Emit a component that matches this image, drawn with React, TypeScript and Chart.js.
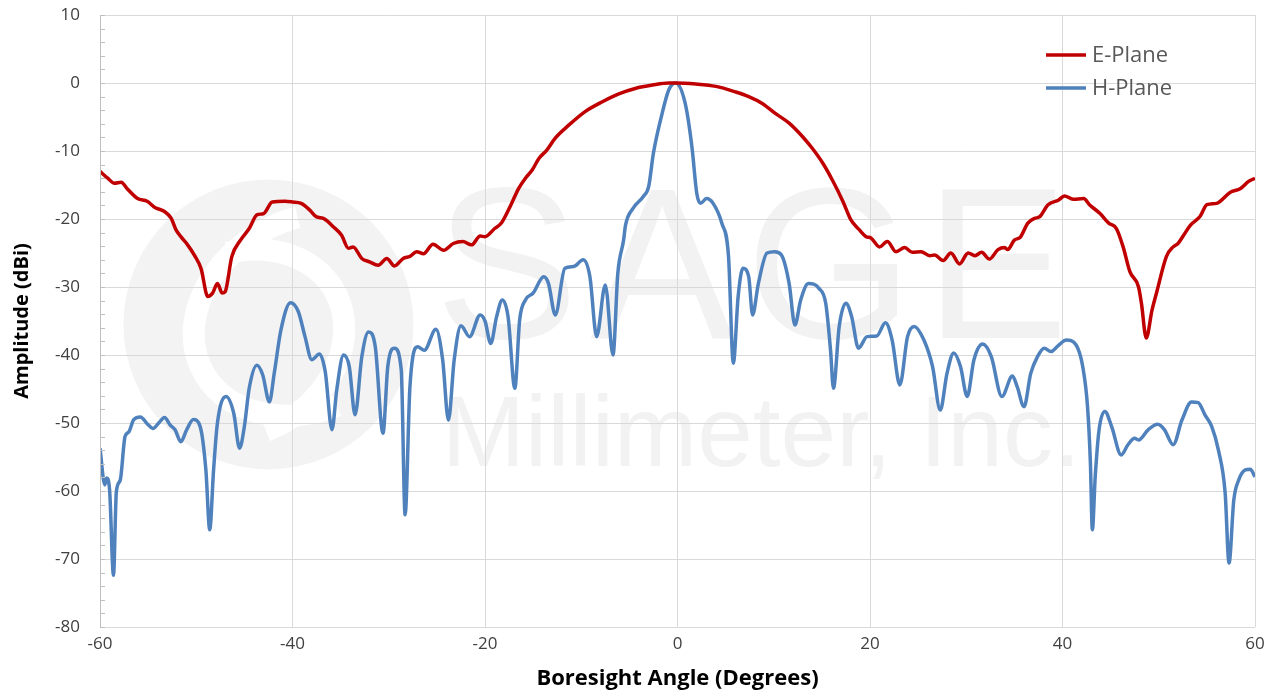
import { useEffect, useRef } from 'react';
import { Chart, registerables } from 'chart.js';

Chart.register(...registerables);

// E-Plane (red) angle / amplitude pairs
const eAngles = [
  -60, -59.2, -58.5, -57.8, -57.2, -56.1, -55.1, -54.3, -53.3, -52.6, -52.1, -51.6, -50.9, -50.2, -49.5,
  -48.8, -48.3, -47.8, -47.3, -47.0, -46.3, -45.4, -44.5, -43.7, -43.0, -42.1, -40.8, -40.0, -39.1, -38.2,
  -37.5, -36.8, -35.8, -34.9, -34.2, -33.7, -32.8, -32.0, -31.1, -30.2, -29.4, -28.5, -27.8, -27.1, -26.4,
  -25.4, -24.3, -23.3, -22.3, -21.4, -20.5, -20.0, -19.0, -18.3, -17.4, -16.5, -15.8, -15.1, -14.4, -13.6,
  -12.7, -11.3, -9.6, -7.8, -6.1, -4.4, -2.6, -0.9, -0.2, 1.9, 4.0, 6.0, 7.4, 8.8, 10.2, 11.6, 13.0, 14.0,
  15.1, 16.1, 17.2, 18.0, 18.9, 19.6, 20.1, 21.0, 21.8, 22.7, 23.6, 24.4, 25.3, 26.2, 26.7, 27.6, 28.4,
  29.3, 30.2, 30.9, 31.6, 32.4, 33.3, 34.0, 34.3, 35.0, 35.6, 36.4, 37.1, 37.6, 38.5, 39.6, 40.2, 41.1,
  42.2, 42.8, 43.9, 44.8, 45.6, 46.3, 47.0, 47.9, 48.2, 48.7, 49.3, 49.8, 50.8, 51.5, 52.0, 52.6, 53.3,
  54.3, 55.0, 56.0, 57.4, 58.5, 59.3, 60.0,
];
const eValues = [
  -13.0, -14.0, -14.75, -14.6, -15.5, -17.0, -17.4, -18.3, -18.9, -19.9, -21.6, -22.6, -23.8, -25.3, -27.3,
  -31.4, -30.9, -29.5, -30.9, -30.7, -25.5, -23.1, -21.4, -19.4, -19.2, -17.5, -17.4, -17.5, -17.7, -18.7,
  -19.7, -19.9, -21.1, -22.4, -24.3, -24.1, -25.8, -26.3, -26.8, -25.8, -26.9, -25.8, -25.5, -24.8, -25.1,
  -23.7, -24.6, -23.6, -23.3, -23.8, -22.5, -22.6, -21.4, -20.6, -18.2, -15.5, -14.0, -12.8, -11.1, -9.9,
  -8.1, -6.2, -4.2, -2.75, -1.6, -0.8, -0.3, 0, 0, -0.15, -0.5, -1.3, -2.0, -3.0, -4.5, -5.9, -7.9, -9.6,
  -11.8, -14.3, -17.45, -20.1, -21.6, -22.6, -22.8, -24.1, -23.3, -24.8, -24.2, -24.9, -24.8, -25.4, -25.3, -26.1, -25.0,
  -26.6, -25.0, -25.4, -24.9, -25.9, -24.5, -24.2, -24.5, -23.1, -22.7, -20.6, -19.9, -19.7, -17.9, -17.2, -16.6, -17.1,
  -17.0, -17.9, -19.2, -20.6, -21.4, -24.1, -27.75, -30.0, -32.4, -37.5, -33.4, -30.7, -25.5, -24.1, -23.6, -22.35, -20.9,
  -19.6, -17.9, -17.7, -16.1, -15.5, -14.5, -14.0,
];

// H-Plane (blue) angle / amplitude pairs
const hAngles = [
  -60.0, -59.5, -59.3, -59.0, -58.6, -58.3, -57.9, -57.4, -57.0, -56.5, -55.8, -55.1, -54.5, -53.9, -53.3,
  -52.7, -52.2, -51.6, -51.0, -50.3, -49.6, -49.0, -48.6, -48.2, -47.8, -46.9, -46.1, -45.5, -45.0, -44.5,
  -43.7, -43.1, -42.4, -41.9, -41.2, -40.2, -39.4, -38.7, -38.0, -37.2, -36.6, -35.9, -35.4, -34.7, -34.1,
  -33.5, -32.8, -32.1, -31.4, -30.6, -30.1, -29.4, -28.7, -28.3, -27.8, -27.0, -26.3, -25.1, -24.4, -23.8,
  -23.2, -22.5, -21.6, -20.5, -20.0, -19.4, -18.8, -18.2, -17.6, -16.9, -16.4, -15.8, -15.0, -13.9, -13.4,
  -12.7, -11.7, -10.8, -9.8, -9.1, -8.4, -7.5, -6.7, -6.2, -5.6, -5.4, -4.6, -3.55, -3.0, -2.5, -1.6, -0.9,
  -0.2, 0.8, 1.5, 2.0, 2.4, 3.0, 3.7, 4.6, 5.3, 5.8, 6.3, 6.8, 7.4, 7.8, 8.4, 9.3, 10.1, 10.8, 11.6, 12.2,
  12.8, 13.6, 14.7, 15.4, 15.9, 16.2, 16.8, 17.5, 18.1, 18.8, 19.7, 20.7, 21.6, 22.3, 23.1, 23.9, 24.6,
  25.6, 26.5, 27.3, 28.0, 28.7, 29.4, 30.1, 30.8, 31.7, 32.6, 33.7, 34.8, 35.3, 36.0, 36.7, 37.4, 38.1,
  38.8, 39.5, 40.4, 41.4, 42.1, 42.6, 42.9, 43.1, 43.4, 43.8, 44.4, 45.1, 46.1, 46.8, 47.5, 47.9, 48.9,
  49.9, 50.6, 51.5, 52.4, 53.4, 54.1, 54.8, 55.5, 56.2, 56.9, 57.3, 57.8, 58.3, 59.0, 59.5, 60.0,
];
const hValues = [
  -53.7, -59.1, -58.1, -59.9, -72.4, -60.1, -58.4, -52.0, -51.3, -49.5, -49.1, -50.1, -50.8, -50.0, -49.2,
  -50.3, -51.0, -52.75, -51.0, -49.5, -50.5, -56.9, -65.7, -56.9, -50.0, -46.1, -48.6, -53.7, -50.5, -44.9,
  -41.5, -42.9, -46.9, -42.7, -36.3, -32.3, -33.6, -37.3, -40.7, -39.85, -42.45, -51.0, -45.1, -40.0, -41.7,
  -48.8, -40.25, -36.6, -38.8, -51.5, -41.7, -39.0, -42.2, -63.5, -44.7, -38.8, -39.3, -36.2, -40.7, -49.6,
  -40.7, -35.7, -37.3, -34.1, -35.0, -38.3, -34.4, -31.9, -34.4, -44.9, -34.85, -31.9, -30.9, -28.5, -29.5,
  -34.1, -27.25, -27.0, -26.0, -28.5, -37.3, -29.7, -40.0, -28.0, -23.1, -20.9, -18.4, -16.7, -15.25, -10.3, -4.5, -1.0,
  0, -3.0, -9.4, -16.2, -17.7, -17.0, -17.7, -20.6, -25.5, -41.2, -31.4, -27.25, -28.5, -34.1, -29.5, -25.0, -24.8, -25.3, -29.5, -35.6,
  -31.9, -29.5, -30.2, -32.4, -39.3, -44.9, -35.8, -32.4, -34.4, -39.0, -37.3, -37.2, -35.25, -37.8, -44.4, -37.3, -35.8,
  -37.8, -41.7, -48.1, -42.7, -39.7, -41.7, -46.1, -40.7, -38.4, -40.25, -46.1, -43.1, -44.7, -47.6, -42.7, -40.25, -39.0,
  -39.5, -38.7, -37.8, -38.5, -41.7, -47.6, -55.9, -65.7, -57.9, -51.0, -48.3, -50.5, -54.7, -53.2, -52.25, -52.5, -51.0,
  -50.2, -51.0, -53.2, -49.6, -46.9, -47.0, -48.8, -50.5, -54.0, -60.3, -70.6, -61.3, -58.4, -56.9, -56.8, -57.9,
];

const seriesLabels = ['E-Plane', 'H-Plane'];
const seriesColors = ['#C00000', '#4F81BD'];
const xTickValues = [-60, -40, -20, 0, 20, 40, 60];
const xTitle = 'Boresight Angle (Degrees)';
const yTitle = 'Amplitude (dBi)';
const watermarkWords = ['SAGE', 'Millimeter, Inc.'];

const FONT = '"Open Sans", "Liberation Sans", sans-serif';

const watermarkPlugin = {
  id: 'watermark',
  beforeDraw(chart: any) {
    const { ctx, chartArea } = chart;
    const xs = chart.scales.x;
    const ys = chart.scales.y;
    ctx.save();
    ctx.beginPath();
    ctx.rect(chartArea.left, chartArea.top, chartArea.right - chartArea.left, chartArea.bottom - chartArea.top);
    ctx.clip();
    // logo disc
    const cx = xs.getPixelForValue(-42.5);
    const cy = ys.getPixelForValue(-35.5);
    ctx.fillStyle = '#F3F3F3';
    ctx.beginPath();
    ctx.arc(cx, cy, 145, 0, Math.PI * 2);
    ctx.fill();
    ctx.strokeStyle = '#FFFFFF';
    ctx.lineWidth = 22;
    ctx.beginPath();
    ctx.ellipse(cx + 40, cy - 10, 120, 95, -0.5, Math.PI * 0.55, Math.PI * 1.6);
    ctx.stroke();
    ctx.beginPath();
    ctx.ellipse(cx - 30, cy + 20, 110, 90, -0.5, Math.PI * 1.6, Math.PI * 2.55);
    ctx.stroke();
    // text
    ctx.fillStyle = '#F2F2F2';
    ctx.textBaseline = 'alphabetic';
    ctx.textAlign = 'left';
    ctx.font = '215px "Liberation Sans", sans-serif';
    (ctx as any).letterSpacing = '12px';
    ctx.fillText(watermarkWords[0], xs.getPixelForValue(-25.2), ys.getPixelForValue(-37.5));
    (ctx as any).letterSpacing = '0px';
    ctx.font = '100px "Liberation Sans", sans-serif';
    ctx.fillText(watermarkWords[1], xs.getPixelForValue(-24.5), ys.getPixelForValue(-56.3));
    ctx.restore();
  },
};

const axisDecorPlugin = {
  id: 'axisDecor',
  afterDatasetsDraw(chart: any) {
    const { ctx, chartArea } = chart;
    const ys = chart.scales.y;
    ctx.save();
    ctx.strokeStyle = '#BFBFBF';
    ctx.lineWidth = 1;
    ctx.beginPath();
    ctx.moveTo(chartArea.left + 0.5, chartArea.top);
    ctx.lineTo(chartArea.left + 0.5, chartArea.bottom);
    for (let v = -80; v <= 10; v += 2) {
      const y = Math.round(ys.getPixelForValue(v)) + 0.5;
      ctx.moveTo(chartArea.left, y);
      ctx.lineTo(chartArea.left + 5, y);
    }
    ctx.stroke();
    ctx.restore();
  },
};

const legendPlugin = {
  id: 'customLegend',
  afterDatasetsDraw(chart: any) {
    const { ctx } = chart;
    ctx.save();
    ctx.font = '22px ' + FONT;
    ctx.textBaseline = 'middle';
    ctx.textAlign = 'left';
    chart.data.datasets.forEach((ds: any, i: number) => {
      const y = 55 + i * 33;
      ctx.strokeStyle = ds.borderColor;
      ctx.lineWidth = 3.5;
      ctx.beginPath();
      ctx.moveTo(1046, y);
      ctx.lineTo(1086, y);
      ctx.stroke();
      ctx.fillStyle = '#595959';
      ctx.fillText(ds.label, 1092, y + 1);
    });
    ctx.restore();
  },
};

export default function App() {
  const ref = useRef<HTMLCanvasElement | null>(null);
  useEffect(() => {
    document.body.style.margin = '0';
    const canvas = ref.current!;
    const chart = new Chart(canvas, {
      type: 'line',
      data: {
        datasets: [
          {
            label: seriesLabels[0],
            data: eAngles.map((x, i) => ({ x, y: eValues[i] })),
            borderColor: seriesColors[0],
            backgroundColor: seriesColors[0],
            borderWidth: 3.5,
            pointRadius: 0,
            cubicInterpolationMode: 'monotone',
            fill: false,
          },
          {
            label: seriesLabels[1],
            data: hAngles.map((x, i) => ({ x, y: hValues[i] })),
            borderColor: seriesColors[1],
            backgroundColor: seriesColors[1],
            borderWidth: 3.5,
            pointRadius: 0,
            cubicInterpolationMode: 'monotone',
            fill: false,
          },
        ],
      },
      options: {
        animation: false,
        responsive: false,
        maintainAspectRatio: false,
        layout: { padding: { top: 15, right: 23, left: 0, bottom: 0 } },
        plugins: { legend: { display: false }, tooltip: { enabled: false } },
        scales: {
          x: {
            type: 'linear',
            min: -60,
            max: 60,
            afterBuildTicks: (s: any) => {
              s.ticks = xTickValues.map((v) => ({ value: v }));
            },
            afterFit: (s: any) => {
              s.height = 67;
            },
            grid: { color: '#D9D9D9', lineWidth: 1, drawTicks: true, tickLength: 7, tickColor: 'rgba(0,0,0,0)' },
            border: { display: false },
            ticks: { color: '#404040', font: { size: 17, family: FONT }, padding: 0, maxRotation: 0 },
            title: {
              display: true,
              text: xTitle,
              color: '#000000',
              font: { size: 22, weight: 'bold', family: FONT },
              padding: { top: 0, bottom: 2 },
            },
          },
          y: {
            type: 'linear',
            min: -80,
            max: 10,
            ticks: { stepSize: 10, color: '#404040', font: { size: 17, family: FONT }, padding: 0 },
            afterFit: (s: any) => {
              s.width = 100;
            },
            grid: { color: '#D9D9D9', lineWidth: 1, drawTicks: true, tickLength: 20, tickColor: 'rgba(0,0,0,0)' },
            border: { display: false },
            title: {
              display: true,
              text: yTitle,
              color: '#000000',
              font: { size: 20, weight: 'bold', family: FONT },
              padding: { top: 10, bottom: 0 },
            },
          },
        },
      },
      plugins: [watermarkPlugin, axisDecorPlugin, legendPlugin],
    } as any);
    return () => chart.destroy();
  }, []);
  return (
    <div style={{ width: 1278, height: 694 }}>
      <canvas ref={ref} width={1278} height={694} style={{ display: 'block' }} />
    </div>
  );
}
